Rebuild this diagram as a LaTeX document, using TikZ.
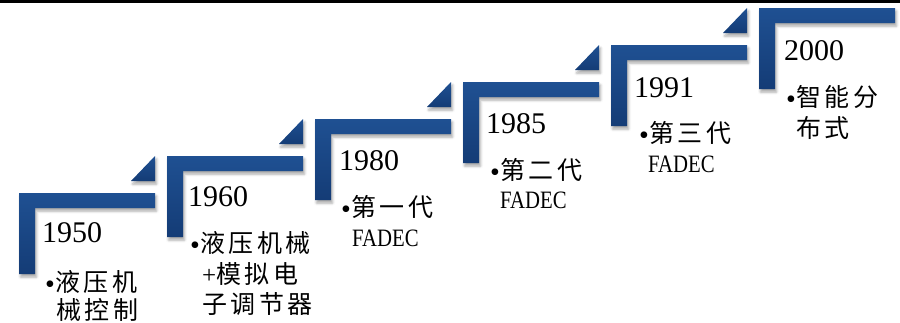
\documentclass[tikz,border=0pt]{standalone}
\usepackage{fontspec}
\usepackage{graphicx}
\setmainfont{Liberation Serif}
\newfontfamily\cjk[LetterSpace=14]{Noto Sans CJK SC}
\usetikzlibrary{shadows.blur}
\definecolor{barTop}{RGB}{31,80,146}
\definecolor{barBot}{RGB}{20,60,118}
\tikzset{
  stair/.style={top color=barTop, bottom color=barBot, draw=none,
    blur shadow={shadow xshift=1.5pt, shadow yshift=-3pt, shadow blur radius=2.5pt, shadow opacity=35}},
  yearlbl/.style={anchor=base west, inner sep=0pt, font=\fontsize{30}{36}\selectfont},
  cjkblock/.style={anchor=base west, inner sep=0pt, font=\cjk\fontsize{25}{30}\selectfont},
}
\newcommand{\bul}{\raisebox{-1.5pt}{\rmfamily\fontsize{28}{30}\selectfont •}}
\newcommand{\plusch}{{\rmfamily +}}
\newcommand{\fadec}{{\rmfamily\scalebox{0.83}[1]{FADEC}}}
% paragraph of lines with fixed line distance #1
\newcommand{\linesblock}[2]{\vtop{\baselineskip=#1\relax\lineskiplimit=-\maxdimen\lineskip=0pt #2}}
\begin{document}
\begin{tikzpicture}[x=1pt,y=-1pt]
\useasboundingbox (0,0) rectangle (900,322);
% top rule
\coordinate (tl) at (0,1.5);
\coordinate (tr) at (900,1.5);
\draw[line width=2.4pt] (tl) -- (tr);
% stairs
\foreach \i in {0,...,5}{
  \pgfmathsetmacro\L{19+148*\i}
  \pgfmathsetmacro\T{193-37*\i}
  \path[stair] (\L,\T) -- ++(136,0) -- ++(0,15) -- ++(-120,0) -- ++(0,66) -- ++(-16,0) -- cycle;
  \ifnum\i<5
    \path[stair] (\L+136,\T-37) -- ++(0,25) -- ++(-24,0) -- cycle;
  \fi
}
% step 1
\node[yearlbl] (y1) at (42,242) {1950};
\node[cjkblock] (t1) at (45,291.5) {\linesblock{28pt}{\hbox{\bul 液压机}\hbox{\hspace*{11pt}械控制}}};
% step 2
\node[yearlbl] (y2) at (188,206) {1960};
\node[cjkblock] (t2) at (190,252.5) {\linesblock{30.5pt}{\hbox{\bul 液压机械}\hbox{\hspace*{12pt}\plusch 模拟电}\hbox{\hspace*{12pt}子调节器}}};
% step 3
\node[yearlbl] (y3) at (339,170) {1980};
\node[cjkblock] (t3) at (341,216.5) {\linesblock{29.75pt}{\hbox{\bul 第一代}\hbox{\hspace*{11pt}\fadec}}};
% step 4
\node[yearlbl] (y4) at (486,133) {1985};
\node[cjkblock] (t4) at (490,179.5) {\linesblock{28.75pt}{\hbox{\bul 第二代}\hbox{\hspace*{10pt}\fadec}}};
% step 5
\node[yearlbl] (y5) at (634,97) {1991};
\node[cjkblock] (t5) at (639,142.5) {\linesblock{29.75pt}{\hbox{\bul 第三代}\hbox{\hspace*{9pt}\fadec}}};
% step 6
\node[yearlbl] (y6) at (784,60) {2000};
\node[cjkblock] (t6) at (786,106.5) {\linesblock{31pt}{\hbox{\bul 智能分}\hbox{\hspace*{10pt}布式}}};
\end{tikzpicture}
\end{document}
